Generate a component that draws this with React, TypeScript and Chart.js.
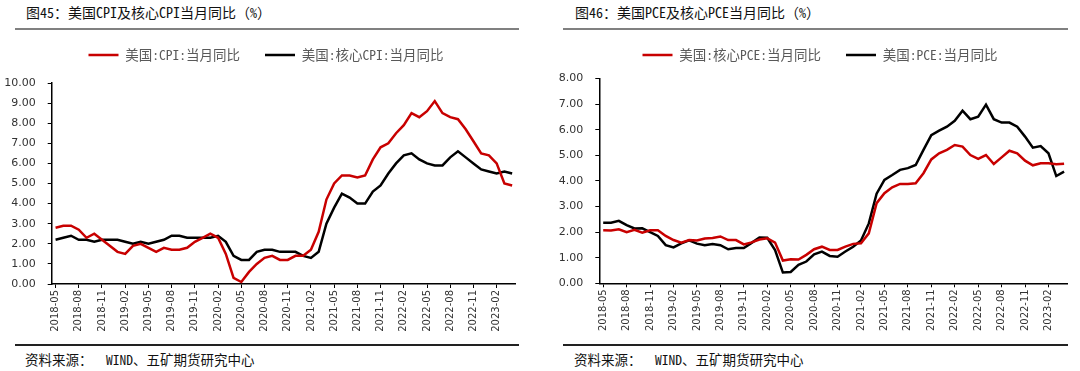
import React, { useEffect, useRef } from "react";
import { Chart, registerables } from "chart.js";

Chart.register(...registerables);

// ---- categories (monthly, 2018-05 .. 2023-04) ----
const months = [
  "2018-05", "2018-06", "2018-07", "2018-08", "2018-09", "2018-10", "2018-11", "2018-12",
  "2019-01", "2019-02", "2019-03", "2019-04", "2019-05", "2019-06", "2019-07", "2019-08",
  "2019-09", "2019-10", "2019-11", "2019-12",
  "2020-01", "2020-02", "2020-03", "2020-04", "2020-05", "2020-06", "2020-07", "2020-08",
  "2020-09", "2020-10", "2020-11", "2020-12",
  "2021-01", "2021-02", "2021-03", "2021-04", "2021-05", "2021-06", "2021-07", "2021-08",
  "2021-09", "2021-10", "2021-11", "2021-12",
  "2022-01", "2022-02", "2022-03", "2022-04", "2022-05", "2022-06", "2022-07", "2022-08",
  "2022-09", "2022-10", "2022-11", "2022-12",
  "2023-01", "2023-02", "2023-03", "2023-04",
];
// indexes of the months that carry a tick label (every third month)
const xTickIndexes = [0, 3, 6, 9, 12, 15, 18, 21, 24, 27, 30, 33, 36, 39, 42, 45, 48, 51, 54, 57];

// ---- Figure 45: CPI ----
const cpi = [
  2.8, 2.9, 2.9, 2.7, 2.3, 2.5, 2.2, 1.9,
  1.6, 1.5, 1.9, 2.0, 1.8, 1.6, 1.8, 1.7, 1.7, 1.8, 2.1, 2.3,
  2.5, 2.3, 1.5, 0.3, 0.1, 0.6, 1.0, 1.3, 1.4, 1.2, 1.2, 1.4,
  1.4, 1.7, 2.6, 4.2, 5.0, 5.4, 5.4, 5.3, 5.4, 6.2, 6.8, 7.0,
  7.5, 7.9, 8.5, 8.3, 8.6, 9.1, 8.5, 8.3, 8.2, 7.7, 7.1, 6.5,
  6.4, 6.0, 5.0, 4.9,
];
const coreCpi = [
  2.2, 2.3, 2.4, 2.2, 2.2, 2.1, 2.2, 2.2,
  2.2, 2.1, 2.0, 2.1, 2.0, 2.1, 2.2, 2.4, 2.4, 2.3, 2.3, 2.3,
  2.3, 2.4, 2.1, 1.4, 1.2, 1.2, 1.6, 1.7, 1.7, 1.6, 1.6, 1.6,
  1.4, 1.3, 1.6, 3.0, 3.8, 4.5, 4.3, 4.0, 4.0, 4.6, 4.9, 5.5,
  6.0, 6.4, 6.5, 6.2, 6.0, 5.9, 5.9, 6.3, 6.6, 6.3, 6.0, 5.7,
  5.6, 5.5, 5.6, 5.5,
];
const cpiYTicks = [0, 1, 2, 3, 4, 5, 6, 7, 8, 9, 10];

// ---- Figure 46: PCE ----
const corePce = [
  2.07, 2.06, 2.11, 2.0, 2.09, 1.98, 2.07, 2.07,
  1.85, 1.69, 1.59, 1.69, 1.67, 1.75, 1.77, 1.83, 1.69, 1.69, 1.52, 1.6,
  1.71, 1.76, 1.59, 0.89, 0.94, 0.93, 1.11, 1.33, 1.43, 1.3, 1.3, 1.43,
  1.54, 1.56, 1.95, 3.13, 3.52, 3.75, 3.88, 3.88, 3.91, 4.3, 4.84, 5.08,
  5.21, 5.4, 5.34, 5.01, 4.86, 5.01, 4.66, 4.92, 5.18, 5.08, 4.79, 4.61,
  4.69, 4.69, 4.65, 4.67,
];
const pce = [
  2.37, 2.37, 2.44, 2.27, 2.14, 2.15, 2.0, 1.85,
  1.49, 1.4, 1.56, 1.68, 1.55, 1.49, 1.53, 1.49, 1.33, 1.38, 1.38, 1.58,
  1.79, 1.78, 1.3, 0.42, 0.44, 0.72, 0.85, 1.13, 1.24, 1.07, 1.04, 1.24,
  1.43, 1.67, 2.34, 3.5, 4.04, 4.23, 4.43, 4.5, 4.62, 5.21, 5.79, 5.96,
  6.12, 6.35, 6.74, 6.41, 6.51, 6.98, 6.41, 6.28, 6.28, 6.12, 5.73, 5.3,
  5.36, 5.08, 4.19, 4.36,
];
const pceYTicks = [0, 1, 2, 3, 4, 5, 6, 7, 8];

const RED = "#C80000";
const BLACK = "#000000";
const CJK = '"Noto Sans Mono CJK SC", "Noto Sans CJK SC", sans-serif';
const NUM = '"DejaVu Sans", sans-serif';

type Series = { label: string; values: number[]; color: string };

type PanelProps = {
  title: string;
  titleLeft: number;
  lineLeft: number;
  lineWidth: number;
  canvasLeft: number;
  canvasWidth: number;
  yAxisWidth: number;
  xAxisHeight: number;
  legendLeft: number;
  legendExtra: number;
  yMax: number;
  yTicks: number[];
  series: Series[];
};

const CANVAS_TOP = 20;
const CANVAS_H = 320;

function Panel(p: PanelProps) {
  const ref = useRef<HTMLCanvasElement>(null);

  useEffect(() => {
    const legendGap = {
      id: "legendGap",
      beforeInit(chart: any) {
        const orig = chart.legend.fit;
        chart.legend.fit = function () {
          orig.call(this);
          this.height += p.legendExtra;
        };
      },
      afterLayout(chart: any) {
        chart.legend.left = p.legendLeft;
      },
    };

    const chart = new Chart(ref.current as HTMLCanvasElement, {
      type: "line",
      data: {
        datasets: p.series.map((s) => ({
          label: s.label,
          data: s.values.map((v, i) => ({ x: i, y: v })),
          borderColor: s.color,
          backgroundColor: s.color,
          borderWidth: 2.5,
          pointRadius: 0,
          tension: 0,
          fill: false,
        })),
      },
      options: {
        animation: false,
        responsive: false,
        maintainAspectRatio: false,
        layout: { padding: { left: 0, right: 0, top: 3.25, bottom: 0 } },
        plugins: {
          tooltip: { enabled: false },
          legend: {
            display: true,
            position: "top",
            align: "center",
            labels: {
              usePointStyle: true,
              pointStyle: "line",
              pointStyleWidth: 30,
              boxHeight: 13.5,
              padding: 25,
              color: "#595959",
              font: { family: CJK, size: 13.5 },
            },
          },
        },
        scales: {
          x: {
            type: "linear",
            min: -0.5,
            max: 59.5,
            afterBuildTicks: (s: any) => {
              s.ticks = xTickIndexes.map((v) => ({ value: v }));
            },
            afterFit: (s: any) => {
              s.height = p.xAxisHeight;
            },
            grid: { display: true, drawOnChartArea: false, drawTicks: true, tickLength: 4, color: "#000", lineWidth: 1 },
            border: { display: true, color: "#000", width: 1.5 },
            ticks: {
              autoSkip: false,
              maxRotation: 90,
              minRotation: 90,
              padding: 2,
              color: "#333",
              font: { family: NUM, size: 10 },
              callback: (v: any) => months[v as number] ?? "",
            },
          },
          y: {
            type: "linear",
            min: 0,
            max: p.yMax,
            afterBuildTicks: (s: any) => {
              s.ticks = p.yTicks.map((v) => ({ value: v }));
            },
            afterFit: (s: any) => {
              s.width = p.yAxisWidth;
            },
            grid: { display: true, drawOnChartArea: false, drawTicks: true, tickLength: 4, color: "#000", lineWidth: 1 },
            border: { display: true, color: "#000", width: 1.5 },
            ticks: {
              padding: 12,
              color: "#333",
              font: { family: NUM, size: 11 },
              callback: (v: any) => Number(v).toFixed(2),
            },
          },
        },
      },
      plugins: [legendGap],
    });
    return () => chart.destroy();
  }, []);

  return (
    <>
      <div
        style={{
          position: "absolute",
          left: p.titleLeft,
          top: 4,
          fontFamily: CJK,
          fontSize: 14,
          lineHeight: "16px",
          color: "#111",
          whiteSpace: "nowrap",
        }}
      >
        {p.title}
      </div>
      <div style={{ position: "absolute", left: p.lineLeft, top: 28, width: p.lineWidth, height: 2, background: "#808080" }} />
      <canvas
        ref={ref}
        width={p.canvasWidth}
        height={CANVAS_H}
        style={{ position: "absolute", left: p.canvasLeft, top: CANVAS_TOP, width: p.canvasWidth, height: CANVAS_H }}
      />
      <div style={{ position: "absolute", left: p.lineLeft, top: 344, width: p.lineWidth, height: 1.5, background: "#222" }} />
      <div
        style={{
          position: "absolute",
          left: p.titleLeft - 1,
          top: 351,
          fontFamily: CJK,
          fontSize: 13.5,
          lineHeight: "16px",
          color: "#111",
          whiteSpace: "pre",
        }}
      >
        {"资料来源：  WIND、五矿期货研究中心"}
      </div>
    </>
  );
}

export default function App() {
  return (
    <div style={{ position: "absolute", left: 0, top: 0, width: 1080, height: 371, background: "#fff", overflow: "hidden" }}>
      <Panel
        title="图45：美国CPI及核心CPI当月同比（%）"
        titleLeft={26}
        lineLeft={15}
        lineWidth={504}
        canvasLeft={0}
        canvasWidth={516}
        yAxisWidth={51.7}
        xAxisHeight={56}
        legendLeft={16}
        legendExtra={11.25}
        yMax={10}
        yTicks={cpiYTicks}
        series={[
          { label: "美国:CPI:当月同比", values: cpi, color: RED },
          { label: "美国:核心CPI:当月同比", values: coreCpi, color: BLACK },
        ]}
      />
      <Panel
        title="图46：美国PCE及核心PCE当月同比（%）"
        titleLeft={575}
        lineLeft={563}
        lineWidth={505}
        canvasLeft={540}
        canvasWidth={528}
        yAxisWidth={59.3}
        xAxisHeight={56.7}
        legendLeft={32}
        legendExtra={6.75}
        yMax={8}
        yTicks={pceYTicks}
        series={[
          { label: "美国:核心PCE:当月同比", values: corePce, color: RED },
          { label: "美国:PCE:当月同比", values: pce, color: BLACK },
        ]}
      />
    </div>
  );
}
